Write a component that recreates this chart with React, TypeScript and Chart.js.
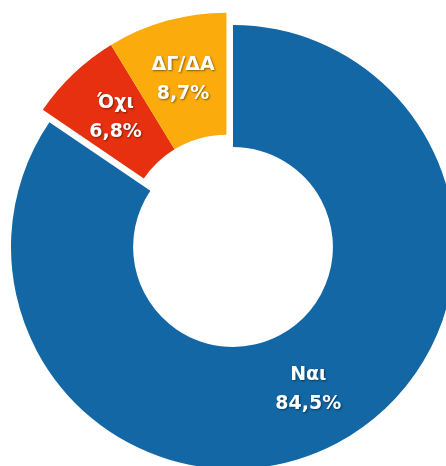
import React, { useEffect, useRef } from "react";
import { Chart, registerables } from "chart.js";

Chart.register(...registerables);

const categories = ["Ναι", "Όχι", "ΔΓ/ΔΑ"];
const values = [84.5, 6.8, 8.7];
const colors = ["#1267A4", "#E6300F", "#FBAB0C"];
const exploded = [false, true, true];

const EXPLODE_PX = 14;
const OUTER_RADIUS = 222;
const CUTOUT = "45%";
const FONT = "bold 19px 'DejaVu Sans', sans-serif";
const LINE_GAP = 29;

const fmt = (v: number) => v.toFixed(1).replace(".", ",") + "%";

const groupExplodePlugin = {
  id: "groupExplode",
  beforeDatasetDraw(chart: any, args: any) {
    const ctx: CanvasRenderingContext2D = chart.ctx;
    const arcs: any[] = args.meta.data;
    const group = arcs.filter((_: any, i: number) => exploded[i]);
    let dx = 0;
    let dy = 0;
    if (group.length) {
      const start = Math.min(...group.map((a) => a.startAngle));
      const end = Math.max(...group.map((a) => a.endAngle));
      const mid = (start + end) / 2;
      dx = Math.cos(mid) * EXPLODE_PX;
      dy = Math.sin(mid) * EXPLODE_PX;
    }
    arcs.forEach((arc: any, i: number) => {
      ctx.save();
      if (exploded[i]) ctx.translate(dx, dy);
      arc.draw(ctx, chart.chartArea);
      ctx.restore();
    });
    arcs.forEach((arc: any, i: number) => {
      const mid = (arc.startAngle + arc.endAngle) / 2;
      const r = (arc.innerRadius + arc.outerRadius) / 2;
      let x = arc.x + Math.cos(mid) * r;
      let y = arc.y + Math.sin(mid) * r;
      if (exploded[i]) {
        x += dx;
        y += dy;
      }
      ctx.save();
      ctx.font = FONT;
      ctx.fillStyle = "#ffffff";
      ctx.textAlign = "center";
      ctx.textBaseline = "middle";
      ctx.shadowColor = "rgba(0,0,0,0.45)";
      ctx.shadowBlur = 2;
      ctx.shadowOffsetX = 1;
      ctx.shadowOffsetY = 1;
      ctx.fillText(categories[i], x, y - LINE_GAP / 2);
      ctx.fillText(fmt(values[i]), x, y + LINE_GAP / 2);
      ctx.restore();
    });
    return false;
  },
};

export default function App() {
  const canvasRef = useRef<HTMLCanvasElement | null>(null);

  useEffect(() => {
    document.body.style.margin = "0";
    document.documentElement.style.overflow = "hidden";
    const canvas = canvasRef.current;
    if (!canvas) return;
    const chart = new Chart(canvas, {
      type: "doughnut",
      data: {
        labels: categories,
        datasets: [
          {
            data: values,
            backgroundColor: colors,
            borderWidth: 0,
          },
        ],
      },
      options: {
        responsive: false,
        animation: false,
        radius: OUTER_RADIUS,
        cutout: CUTOUT,
        layout: { padding: 0 },
        plugins: {
          legend: { display: false },
          tooltip: { enabled: false },
        },
      },
      plugins: [groupExplodePlugin],
    });
    return () => chart.destroy();
  }, []);

  return (
    <div
      style={{
        position: "relative",
        width: 446,
        height: 466,
        overflow: "hidden",
        background: "#ffffff",
      }}
    >
      <canvas
        ref={canvasRef}
        width={466}
        height={494}
        style={{ position: "absolute", left: 0, top: 0, width: 466, height: 494 }}
      />
    </div>
  );
}
